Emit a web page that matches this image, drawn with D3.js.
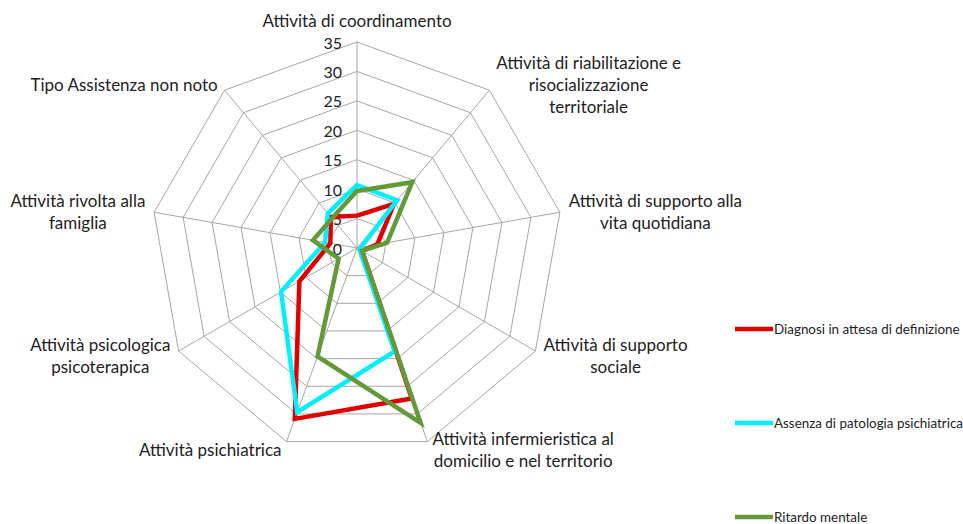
<!DOCTYPE html>
<html>
<head>
<meta charset="utf-8">
<script src="https://cdn.jsdelivr.net/npm/d3@7"></script>
<style>
  body { margin: 0; background: #fff; }
  svg { display: block; font-family: Lato, "Open Sans", sans-serif; }
</style>
</head>
<body>
<svg id="chart" width="963" height="524"></svg>
<script>
// categories, clockwise from top
var categories = [
  "Attività di coordinamento",
  "Attività di riabilitazione e|risocializzazione|territoriale",
  "Attività di supporto alla|vita quotidiana",
  "Attività di supporto|sociale",
  "Attività infermieristica al|domicilio e nel territorio",
  "Attività psichiatrica",
  "Attività psicologica|psicoterapica",
  "Attività rivolta alla|famiglia",
  "Tipo Assistenza non noto"
];
var seriesNames = [
  "Diagnosi in attesa di definizione",
  "Assenza di patologia psichiatrica",
  "Ritardo mentale"
];
var seriesColors = ["#e00000", "#00f0ff", "#629a3a"];
var diagnosi = [5.5, 9.8, 3.5, 1.0, 27.2, 30.9, 11.3, 4.6, 6.9];
var assenza = [10.7, 10.6, 0.7, 0.5, 18.7, 29.7, 14.9, 5.5, 7.7];
var ritardo = [9.7, 14.6, 5.2, 1.0, 31.6, 19.6, 3.6, 7.6, 6.6];
var ticks = [0, 5, 10, 15, 20, 25, 30, 35];

var seriesValues = [diagnosi, assenza, ritardo];

var cx = 357, cy = 248, R = 206;
var svg = d3.select("#chart");
var r = d3.scaleLinear().domain([0, 35]).range([0, R]);
var ang = d3.scaleLinear().domain([0, categories.length]).range([0, 2 * Math.PI]);

function pt(i, v) {
  var a = ang(i);
  return [cx + Math.sin(a) * r(v), cy - Math.cos(a) * r(v)];
}

var g = svg.append("g");

// rings
var ring = d3.line().curve(d3.curveLinearClosed);
g.selectAll("path.ring")
  .data(ticks.filter(function (t) { return t > 0; }))
  .enter().append("path")
  .attr("class", "ring")
  .attr("d", function (t) { return ring(categories.map(function (c, i) { return pt(i, t); })); })
  .attr("fill", "none")
  .attr("stroke", "#a6a6a6")
  .attr("stroke-width", 1);

// spokes
g.selectAll("line.spoke")
  .data(categories)
  .enter().append("line")
  .attr("class", "spoke")
  .attr("x1", cx).attr("y1", cy)
  .attr("x2", function (d, i) { return pt(i, 35)[0]; })
  .attr("y2", function (d, i) { return pt(i, 35)[1]; })
  .attr("stroke", "#a6a6a6")
  .attr("stroke-width", 1);

// tick labels
g.selectAll("text.tick")
  .data(ticks)
  .enter().append("text")
  .attr("class", "tick")
  .attr("x", cx - 15)
  .attr("y", function (t) { return cy - r(t); })
  .attr("text-anchor", "end")
  .attr("dominant-baseline", "central")
  .attr("font-size", 16)
  .attr("fill", "#222")
  .text(function (t) { return t; });

// series
var line = d3.line().curve(d3.curveLinearClosed);
g.selectAll("path.series")
  .data(seriesValues)
  .enter().append("path")
  .attr("class", "series")
  .attr("d", function (vals) { return line(vals.map(function (v, i) { return pt(i, v); })); })
  .attr("fill", "none")
  .attr("stroke", function (d, i) { return seriesColors[i]; })
  .attr("stroke-width", 4.5)
  .attr("stroke-linejoin", "miter");

// category labels
var lineH = 22;
categories.forEach(function (c, i) {
  var a = ang(i);
  var s = Math.sin(a), co = Math.cos(a);
  var v = pt(i, 35);
  var lines = c.split("|");
  var t = g.append("text")
    .attr("font-size", 17)
    .attr("fill", "#222")
    .attr("dominant-baseline", "central");
  var spans = lines.map(function (l) { return t.append("tspan").text(l); });
  var widths = spans.map(function (sp) { return sp.node().getComputedTextLength(); });
  var w = d3.max(widths);
  var blockH = lines.length * lineH;
  var left, top;
  if (Math.abs(s) < 0.1) {
    left = v[0] - w / 2;
    top = v[1] - 22 - blockH / 2;
  } else {
    var gap = 3 + 6 * Math.abs(s);
    left = s > 0 ? v[0] + gap : v[0] - gap - w;
    top = v[1] - co * 8 - blockH / 2;
  }
  spans.forEach(function (sp, k) {
    sp.attr("x", left + (w - widths[k]) / 2)
      .attr("y", top + lineH / 2 + k * lineH);
  });
});

// legend
var ly = d3.scalePoint().domain(seriesNames).range([329, 517]);
var leg = svg.append("g").selectAll("g")
  .data(seriesNames)
  .enter().append("g")
  .attr("transform", function (d) { return "translate(735," + ly(d) + ")"; });
leg.append("line")
  .attr("x1", 0).attr("x2", 38)
  .attr("stroke", function (d, i) { return seriesColors[i]; })
  .attr("stroke-width", 4.5);
leg.append("text")
  .attr("x", 39)
  .attr("dominant-baseline", "central")
  .attr("font-size", 13.4)
  .attr("fill", "#222")
  .text(function (d) { return d; });
</script>
</body>
</html>
